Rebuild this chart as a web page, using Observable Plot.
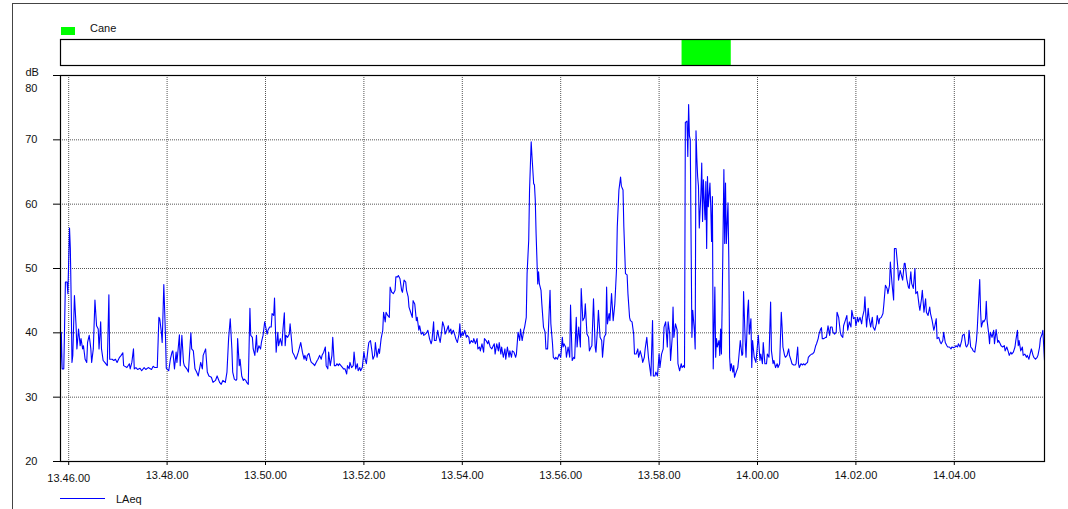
<!DOCTYPE html>
<html><head><meta charset="utf-8">
<script src="https://cdn.jsdelivr.net/npm/d3@7"></script>
<script src="https://cdn.jsdelivr.net/npm/@observablehq/plot@0.6"></script>
<style>
html,body{margin:0;padding:0;background:#fff;}
body{font-family:"Liberation Sans",Arial,sans-serif;font-size:11px;color:#111;}
#root{position:relative;width:1068px;height:509px;overflow:hidden;}
#outer{position:absolute;left:12px;top:3px;width:1100px;height:560px;border-top:1px solid #444;border-left:1px solid #444;}
#swatch{position:absolute;left:61px;top:27px;width:14px;height:8px;background:#00ff00;}
#evname{position:absolute;left:90px;top:22px;line-height:13px;}
#evplot{position:absolute;left:0;top:38px;}
#mainplot{position:absolute;left:0;top:66px;}
#legline{position:absolute;left:60px;top:498px;width:45px;height:0;border-top:1px solid #0000ff;}
#legname{position:absolute;left:116px;top:493px;line-height:13px;}
</style></head>
<body><div id="root">
<div id="outer"></div>
<div id="swatch"></div><div id="evname"></div>
<div id="evplot"></div>
<div id="mainplot"></div>
<div id="legline"></div><div id="legname"></div>
</div>
<script>
// ---- data ----
const startTime = "13:45:50";
const endTime = "14:05:50";
const yUnit = "dB";
const seriesName = "LAeq";
const yTicks = [20, 30, 40, 50, 60, 70, 80];
const xTickTimes = ["13:46:00","13:48:00","13:50:00","13:52:00","13:54:00","13:56:00","13:58:00","14:00:00","14:02:00","14:04:00"];
const eventName = "Cane";
const eventStart = "13:58:28";
const eventEnd = "13:59:28";
// [seconds after startTime, LAeq dB]
const laeqSeries = [
[0,34.6],[1,40.1],[2,34.4],[4,34.4],[6,47.9],[8,47.9],[9,46.1],[11,56.3],[12,53.1],[13,45.3],[14,35.4],[15,36.5],[17,45.8],[19,41.1],[20,37.5],[22,40.6],[24,38.0],[25,39.1],[27,37.5],[28,38.0],[30,35.9],[32,35.4],[33,38.5],[35,39.6],[37,37.5],[38,35.4],[40,37.5],[42,45.1],[44,41.1],[46,40.6],[47,37.5],[49,41.7],[50,37.5],[52,35.7],[54,35.4],[57,34.9],[59,45.9],[60,35.9],[63,35.9],[65,35.7],[67,35.9],[69,35.4],[72,36.2],[74,36.5],[76,36.9],[77,34.9],[81,34.6],[84,35.2],[85,34.4],[87,35.4],[89,37.5],[90,34.4],[92,34.6],[94,34.3],[97,34.5],[99,34.1],[102,34.6],[104,34.3],[107,34.6],[111,34.3],[113,34.8],[115,34.6],[118,34.6],[120,42.4],[121,42.2],[123,40.1],[124,38.5],[126,47.5],[128,39.6],[129,34.5],[132,34.1],[134,35.9],[136,37.0],[137,37.2],[139,34.4],[141,37.0],[142,35.4],[145,39.7],[146,34.9],[148,39.6],[150,35.4],[151,34.9],[154,34.4],[156,33.9],[159,40.0],[160,37.5],[162,37.2],[164,34.4],[166,33.9],[168,33.3],[171,35.4],[173,34.4],[174,36.5],[177,37.5],[179,33.9],[181,33.3],[184,33.1],[186,32.3],[189,32.6],[191,33.3],[194,32.3],[196,32.0],[198,32.6],
[201,32.3],[203,33.9],[205,39.1],[207,42.2],[209,37.5],[210,33.9],[212,32.8],[214,32.6],[215,32.8],[216,39.1],[218,34.9],[219,35.9],[221,33.3],[223,32.6],[224,32.8],[226,32.6],[227,32.3],[229,32.0],[230,38.0],[231,43.8],[232,39.6],[234,39.3],[235,37.5],[237,36.5],[239,39.6],[240,37.0],[242,38.0],[244,37.5],[245,38.5],[247,39.6],[249,41.7],[250,41.1],[252,39.8],[253,40.4],[255,40.9],[257,40.9],[258,43.0],[260,42.7],[261,45.4],[262,41.1],[263,37.0],[265,40.1],[266,38.0],[268,39.1],[270,38.0],[271,40.1],[273,43.1],[274,38.0],[275,39.6],[277,39.3],[279,39.8],[280,41.4],[282,38.5],[283,37.0],[285,36.5],[287,35.9],[288,36.2],[290,37.0],[292,38.0],[293,38.5],[295,37.0],[297,35.9],[298,36.5],[300,35.7],[301,36.5],[303,36.8],[305,35.7],[306,35.4],[308,35.2],[310,34.9],[311,35.2],[313,35.7],[314,35.9],[316,36.5],[318,35.9],[319,36.5],[321,37.0],[323,37.8],[324,34.9],[326,34.4],[327,37.0],[329,34.9],[331,36.5],[332,39.3],[334,34.9],[336,34.9],[337,35.2],[339,34.9],[340,35.2],[342,34.9],[344,34.6],[345,34.4],[347,34.4],[349,33.6],[350,34.9],[352,34.4],[353,35.4],[355,34.6],[357,34.9],[358,37.0],[360,34.4],[362,35.2],[363,34.1],[365,34.6],[366,34.1],[368,34.6],[370,37.0],[371,36.2],[373,35.2],[375,37.5],[376,38.5],[378,38.8],[380,37.0],[381,35.9],[383,36.5],[384,38.5],[386,36.2],[388,37.5],[389,36.8],[391,39.1],[393,40.4],[394,43.2],[396,41.7],[397,43.2],[399,42.7],[401,42.4],[402,47.1],
[404,46.3],[406,46.1],[408,46.6],[409,48.7],[411,48.7],[412,48.9],[414,48.4],[416,46.6],[417,46.3],[419,48.2],[421,47.9],[422,46.6],[424,45.6],[425,44.0],[427,43.2],[429,42.4],[430,45.0],[432,44.5],[434,41.9],[435,42.4],[437,40.4],[438,41.1],[440,39.8],[442,40.1],[443,39.6],[445,39.8],[447,40.1],[448,40.4],[450,39.1],[452,38.3],[453,38.8],[455,41.7],[456,38.8],[458,38.8],[460,40.4],[461,39.6],[463,38.5],[465,40.4],[466,41.7],[468,40.9],[469,39.8],[471,40.4],[473,41.1],[474,40.1],[476,40.6],[477,39.8],[479,40.4],[481,39.6],[482,39.1],[484,38.5],[486,39.8],[487,41.4],[488,39.3],[490,40.1],[491,39.6],[493,40.4],[495,39.3],[496,39.6],[498,39.3],[499,38.3],[501,38.8],[503,38.5],[504,39.1],[506,38.3],[508,39.1],[509,37.5],[511,37.8],[512,37.2],[514,38.3],[516,37.0],[517,39.1],[519,38.8],[521,38.3],[522,38.8],[524,37.8],[526,37.5],[527,37.8],[529,38.3],[530,36.7],[532,38.3],[534,37.2],[535,38.5],[537,36.7],[538,37.8],[540,36.2],[542,37.5],[543,35.9],[545,37.8],[547,36.2],[548,37.2],[550,36.2],[551,37.2],[553,37.0],[555,36.2],[556,36.7],[558,40.1],[560,38.8],[561,40.6],[563,38.8],[565,40.4],[566,40.9],[568,42.4],[569,49.2],[571,54.4],[572,62.2],[574,69.7],[575,67.4],[577,63.2],[578,63.0],[579,60.6],[580,55.4],[582,47.6],[583,49.5],[584,47.6],[586,46.6],[587,44.5],[589,40.9],[591,40.1],[592,37.5],[594,37.5],[595,40.4],[597,46.6],[598,41.4],[600,38.3],[601,36.2],[603,35.9],[604,36.2],[606,35.9],
[608,36.7],[610,36.2],[612,39.3],[613,37.8],[614,38.3],[616,37.8],[617,36.2],[619,37.8],[621,36.2],[622,44.3],[624,35.7],[626,36.2],[627,36.0],[629,42.4],[630,37.8],[632,40.9],[634,37.8],[635,46.9],[637,41.9],[639,42.4],[640,44.5],[642,39.8],[644,39.3],[645,37.2],[647,37.8],[648,38.0],[650,45.3],[652,37.8],[653,37.0],[655,40.9],[656,43.5],[658,39.3],[660,38.8],[661,36.2],[663,39.3],[665,39.8],[666,47.1],[667,41.4],[669,43.0],[670,41.9],[672,46.1],[673,44.0],[674,41.9],[676,44.5],[678,49.7],[679,56.5],[681,62.2],[683,64.2],[684,62.8],[686,62.2],[687,56.5],[689,49.2],[691,49.0],[692,46.1],[694,42.4],[695,41.9],[697,41.7],[699,39.8],[700,36.7],[702,36.7],[704,37.5],[705,36.2],[707,37.2],[709,36.2],[710,35.4],[712,36.2],[713,37.5],[715,39.3],[717,36.2],[718,35.2],[720,33.3],[722,41.9],[723,33.3],[725,33.3],[726,33.9],[728,33.3],[730,36.7],[731,34.6],[733,36.7],[735,37.5],[736,40.9],[738,41.7],[740,37.8],[741,41.7],[743,39.8],[744,35.7],[746,39.3],[747,44.0],[748,39.3],[750,41.4],[752,40.4],[753,35.2],[755,34.1],
[757,35.2],[758,34.6],[760,34.9],[761,34.6],[762,72.7],[764,72.9],[765,67.4],[766,75.5],[767,70.6],[768,70.0],[770,39.3],[771,43.5],[773,40.4],[774,37.5],[775,71.4],[776,67.2],[777,64.3],[778,62.8],[779,56.3],[781,61.7],[782,66.4],[783,57.3],[784,63.8],[786,57.6],[787,63.5],[788,53.1],[789,64.3],[790,59.6],[792,63.3],[793,59.6],[794,54.2],[795,61.2],[796,34.4],[798,47.1],[799,36.2],[800,39.1],[801,37.8],[803,38.8],[804,36.5],[805,40.6],[806,36.7],[807,45.1],[809,65.4],[810,53.9],[811,63.3],[812,53.9],[814,60.2],[815,51.6],[816,36.2],[817,34.1],[818,35.2],[820,33.9],[821,34.9],[822,33.1],[824,33.9],[826,34.6],[827,35.9],[829,38.8],[831,36.5],[832,36.7],[833,46.4],[835,38.8],[836,36.2],[838,43.5],[839,45.1],[840,39.8],[842,42.2],[843,34.6],[844,38.8],[846,36.2],[848,35.4],[849,36.7],[851,39.6],[853,35.7],[854,36.7],[856,35.2],[857,38.5],[859,35.2],[861,35.2],[862,36.7],[864,36.2],[866,44.8],[867,37.2],[869,35.2],[870,35.7],[872,34.6],[874,35.2],[875,34.6],[877,35.2],[879,43.2],[880,40.9],[881,37.8],[883,36.5],[884,36.2],[886,36.5],[888,37.5],[889,36.5],[891,35.7],[892,35.2],[894,35.0],[896,35.0],[897,35.2],[899,37.8],[900,35.2],[901,34.6],[903,35.2],[905,35.0],[906,35.2],[908,35.0],
[909,35.2],[911,35.4],[912,36.2],[914,36.5],[916,36.7],[917,36.7],[919,37.0],[921,38.0],[922,38.3],[924,39.1],[925,39.8],[927,40.6],[928,40.8],[929,39.1],[931,39.1],[933,39.3],[934,39.3],[936,41.1],[938,39.6],[939,40.9],[941,40.9],[942,40.1],[944,39.8],[946,40.1],[947,43.2],[949,42.4],[951,40.1],[952,39.6],[954,39.3],[955,41.1],[957,41.9],[959,42.7],[960,40.4],[962,41.7],[964,40.9],[965,43.5],[967,42.2],[969,42.4],[970,41.1],[972,42.4],[973,41.7],[975,42.4],[977,41.4],[978,42.4],[980,43.5],[981,45.6],[982,43.0],[983,40.9],[985,43.8],[986,42.4],[988,40.9],[990,42.4],[991,40.9],[993,40.4],[995,41.4],[996,42.7],[998,41.4],[999,42.2],[1001,42.4],[1003,43.0],[1004,44.3],[1006,47.4],[1008,46.9],[1009,46.1],[1011,47.4],[1012,51.0],[1014,47.7],[1016,45.1],[1017,53.1],[1019,53.1],[1021,50.3],[1022,48.2],[1024,49.7],[1025,49.2],[1027,48.2],[1029,50.8],[1030,50.8],[1032,48.4],[1034,47.1],[1035,46.9],[1037,49.5],[1038,47.7],[1040,46.9],[1042,50.0],[1043,46.1],[1045,46.4],[1047,44.3],[1048,43.5],[1050,45.3],[1051,46.6],[1053,43.2],[1055,45.3],[1056,43.2],[1058,42.7],[1060,44.0],[1061,43.0],[1063,41.9],[1065,40.4],[1066,40.9],[1068,42.2],[1069,39.1],[1071,39.3],[1073,38.5],[1074,38.3],[1076,38.8],[1077,40.1],[1079,38.5],[1081,38.0],[1082,37.8],[1084,37.8],[1086,37.5],[1087,37.8],[1089,37.7],[1091,37.8],[1092,38.0],[1094,37.8],[1095,38.3],[1097,37.8],[1099,38.8],[1100,39.6],[1102,39.8],[1104,38.0],[1105,37.8],[1107,38.3],[1108,40.4],[1110,37.8],[1112,37.5],[1113,37.2],[1115,37.0],[1117,38.8],[1118,40.6],[1119,43.2],[1121,48.3],[1122,43.5],[1123,40.9],[1125,41.9],[1126,41.7],[1128,42.2],[1129,44.9],[1130,41.9],[1132,39.8],[1133,38.3],[1134,40.1],[1136,39.3],[1138,40.4],[1139,38.3],[1141,40.5],[1143,38.5],[1144,38.8],[1146,38.3],[1147,38.0],[1149,37.8],[1151,38.0],[1152,37.2],[1154,37.8],[1156,37.0],[1157,36.5],[1159,37.0],[1160,36.7],[1162,37.0],[1164,37.8],[1165,38.8],[1167,40.4],[1168,38.0],[1169,38.8],[1171,37.2],[1173,37.8],[1174,36.5],[1176,36.7],[1178,36.2],[1179,36.5],[1181,35.9],[1182,36.5],[1184,37.5],[1186,36.5],[1187,36.2],[1189,35.9],[1191,36.2],[1192,36.5],[1194,37.8],[1195,39.1],[1197,39.8],[1198,40.4],[1200,35.7]
];

// ---- helpers ----
function clock(str) { const [h, m, s] = str.split(":").map(Number); return new Date(Date.UTC(2000, 0, 1, h, m, s)); }
const t0 = clock(startTime), t1 = clock(endTime);
const series = laeqSeries.map(([s, v]) => ({date: new Date(+t0 + s * 1000), value: v}));
const xTicks = xTickTimes.map(clock);
const events = [{name: eventName, start: clock(eventStart), end: clock(eventEnd)}];
const fmt = d3.utcFormat("%H.%M.%S");
const font = {fontFamily: "Liberation Sans, Arial, sans-serif", fontSize: "11px", color: "#111", background: "transparent", overflow: "visible"};
const xScale = {type: "utc", domain: [t0, t1], axis: null};

document.getElementById("evname").textContent = eventName;
document.getElementById("legname").textContent = seriesName;

// ---- event bar ----
const ev = Plot.plot({
  width: 1068, height: 28, marginLeft: 60, marginRight: 24, marginTop: 1, marginBottom: 1,
  style: font,
  x: xScale,
  marks: [
    Plot.rect(events, {x1: "start", x2: "end", fill: "#00ff00"}),
    Plot.frame({stroke: "#000", strokeWidth: 1.2})
  ]
});
document.getElementById("evplot").appendChild(ev);

// ---- main chart ----
const gridStyle = {stroke: "#555", strokeDasharray: "1,1", strokeWidth: 1};
const main = Plot.plot({
  width: 1068, height: 425, marginLeft: 60, marginRight: 24, marginTop: 9, marginBottom: 30,
  style: font,
  x: xScale,
  y: {domain: [yTicks[0], yTicks[yTicks.length - 1]], axis: null},
  marks: [
    Plot.ruleY(yTicks.slice(1, -1), gridStyle),
    Plot.ruleX(xTicks, gridStyle),
    Plot.line(series, {x: "date", y: "value", stroke: "#0000ff", strokeWidth: 1.1}),
    Plot.frame({stroke: "#000", strokeWidth: 1.2}),
    Plot.axisY(yTicks, {tickSize: 7, tickFormat: () => "", label: null, stroke: "#000"}),
    Plot.axisX(xTicks, {tickSize: 4, tickFormat: () => "", label: null, stroke: "#000"}),
    Plot.text(yTicks.slice(0, -1), {y: d => d, text: d => String(d), frameAnchor: "left", dx: -23, textAnchor: "end", fill: "#111"}),
    Plot.text(yTicks.slice(-1), {y: d => d, text: d => String(d), frameAnchor: "left", dx: -23, dy: 13, textAnchor: "end", fill: "#111"}),
    Plot.text([yUnit], {text: d => d, frameAnchor: "top-left", dx: -35, dy: 0, lineAnchor: "bottom", textAnchor: "start", fill: "#111"}),
    Plot.text(xTicks.slice(1), {x: d => d, text: d => fmt(d), frameAnchor: "bottom", dy: 17, fill: "#111"}),
    Plot.text(xTicks.slice(0, 1), {x: d => d, text: d => fmt(d), frameAnchor: "bottom", dy: 20.5, fill: "#111"})
  ]
});
document.getElementById("mainplot").appendChild(main);
</script>
</body></html>
